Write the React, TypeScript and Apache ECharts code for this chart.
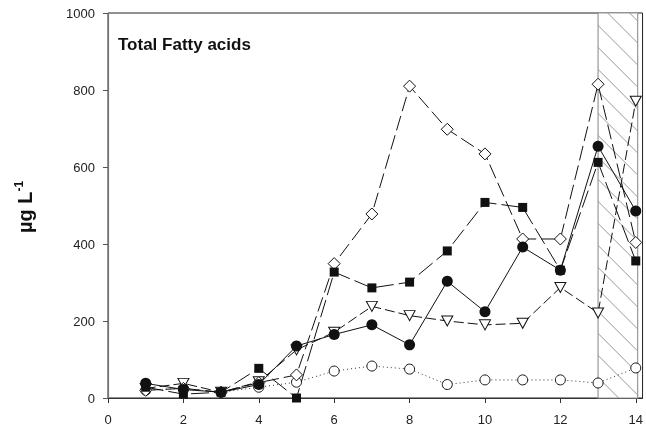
import React, { useEffect, useRef } from 'react';
import * as echarts from 'echarts';

const days = [1, 2, 3, 4, 5, 6, 7, 8, 9, 10, 11, 12, 13, 14];
const filledCircle = [38, 22, 15, 35, 135, 165, 190, 138, 303, 224, 392, 332, 654, 486];
const filledSquare = [28, 10, 15, 77, 0, 327, 286, 301, 382, 508, 495, 332, 612, 356];
const openDiamond = [20, 25, 15, 40, 60, 349, 478, 810, 698, 634, 413, 413, 815, 404];
const openTriangle = [25, 38, 15, 42, 125, 171, 238, 214, 200, 190, 194, 287, 221, 771];
const openCircle = [20, 25, 15, 28, 41, 70, 83, 75, 35, 47, 47, 47, 39, 78];

const xTicks = [0, 2, 4, 6, 8, 10, 12, 14];
const X_MIN = 0;
const X_MAX = 14.18;
const Y_MIN = 0;
const Y_MAX = 1000;
const HATCH_START = 13;
const HATCH_END = 14.05;

const FONT = '"Liberation Sans", Arial, sans-serif';

function pairs(vals: number[]) {
  return days.map((d, i) => [d, vals[i]]);
}

export default function App() {
  const ref = useRef<HTMLDivElement>(null);
  useEffect(() => {
    if (!ref.current) return;
    const chart = echarts.init(ref.current, undefined, { renderer: 'svg' });
    const lineBase = {
      type: 'line' as const,
      z: 3,
      symbolKeepAspect: true,
    };
    chart.setOption({
      animation: false,
      grid: {
        left: 108,
        right: 3,
        top: 13,
        bottom: 37,
        show: true,
        borderColor: '#222',
        borderWidth: 1,
        backgroundColor: 'transparent',
      },
      xAxis: {
        type: 'value',
        min: X_MIN,
        max: X_MAX,
        interval: 2,
        splitLine: { show: false },
        axisLine: { show: true, lineStyle: { color: '#333', width: 1 } },
        axisTick: {
          show: true,
          inside: false,
          length: 5,
          customValues: xTicks,
          lineStyle: { color: '#333' },
        },
        axisLabel: {
          customValues: xTicks,
          margin: 15,
          fontSize: 13,
          color: '#222',
          fontFamily: FONT,
        },
      },
      yAxis: {
        type: 'value',
        min: Y_MIN,
        max: Y_MAX,
        interval: 200,
        splitLine: { show: false },
        axisLine: { show: true, lineStyle: { color: '#777', width: 1.2 } },
        axisTick: { show: true, inside: false, length: 5, lineStyle: { color: '#555' } },
        axisLabel: {
          margin: 13,
          fontSize: 13,
          color: '#222',
          fontFamily: FONT,
          formatter: (v: number) => String(v),
        },
      },
      graphic: [
        {
          type: 'text',
          left: 118,
          top: 36,
          style: {
            text: 'Total Fatty acids',
            font: `bold 17px ${FONT}`,
            fill: '#111',
          },
        },
        {
          type: 'text',
          x: 25,
          y: 207,
          rotation: Math.PI / 2,
          style: {
            text: '{a|µg L}{b|-1}',
            align: 'center',
            verticalAlign: 'middle',
            rich: {
              a: { fontSize: 20, fontWeight: 'bold', fontFamily: FONT, fill: '#111', lineHeight: 24 },
              b: { fontSize: 12, fontWeight: 'bold', fontFamily: FONT, fill: '#111', lineHeight: 24, verticalAlign: 'top' },
            },
          },
        },
      ],
      series: [
        {
          type: 'custom',
          z: 1,
          silent: true,
          data: [[HATCH_START, HATCH_END]],
          renderItem: (params: any, api: any) => {
            const p0 = api.coord([HATCH_START, Y_MAX]);
            const p1 = api.coord([HATCH_END, Y_MIN]);
            const x0 = p0[0], y0 = p0[1], x1 = p1[0], y1 = p1[1];
            const children: any[] = [
              {
                type: 'rect',
                shape: { x: x0, y: y0, width: x1 - x0, height: y1 - y0 },
                style: { fill: '#fff', stroke: '#999', lineWidth: 1.2 },
              },
            ];
            const step = 22;
            for (let c = y0 - x1 + 8; c < y1 - x0; c += step) {
              const sx = Math.max(x0, y0 - c);
              const ex = Math.min(x1, y1 - c);
              if (sx < ex) {
                children.push({
                  type: 'line',
                  shape: { x1: sx, y1: sx + c, x2: ex, y2: ex + c },
                  style: { stroke: '#9a9a9a', lineWidth: 1 },
                });
              }
            }
            return { type: 'group', children };
          },
        },
        {
          ...lineBase,
          name: 'openCircle',
          data: pairs(openCircle),
          symbol: 'circle',
          symbolSize: 10,
          itemStyle: { color: '#fff', borderColor: '#111', borderWidth: 1 },
          lineStyle: { color: '#333', width: 1, type: [1, 3] },
        },
        {
          ...lineBase,
          name: 'openTriangle',
          data: pairs(openTriangle),
          symbol: 'triangle',
          symbolRotate: 180,
          symbolSize: [11, 10],
          itemStyle: { color: '#fff', borderColor: '#111', borderWidth: 1 },
          lineStyle: { color: '#111', width: 1, type: [10, 4] },
        },
        {
          ...lineBase,
          name: 'openDiamond',
          data: pairs(openDiamond),
          symbol: 'diamond',
          symbolSize: [12, 12],
          itemStyle: { color: '#fff', borderColor: '#111', borderWidth: 1 },
          lineStyle: { color: '#111', width: 1, type: [15, 5] },
        },
        {
          ...lineBase,
          name: 'filledSquare',
          data: pairs(filledSquare),
          symbol: 'rect',
          symbolSize: 9,
          itemStyle: { color: '#111', borderColor: '#111', borderWidth: 0 },
          lineStyle: { color: '#111', width: 1, type: [18, 5] },
        },
        {
          ...lineBase,
          name: 'filledCircle',
          data: pairs(filledCircle),
          symbol: 'circle',
          symbolSize: 11,
          itemStyle: { color: '#111', borderColor: '#111', borderWidth: 0 },
          lineStyle: { color: '#111', width: 1, type: 'solid' },
        },
      ],
    });
    return () => chart.dispose();
  }, []);
  return <div ref={ref} style={{ position: 'fixed', left: 0, top: 0, width: 646, height: 435 }} />;
}
